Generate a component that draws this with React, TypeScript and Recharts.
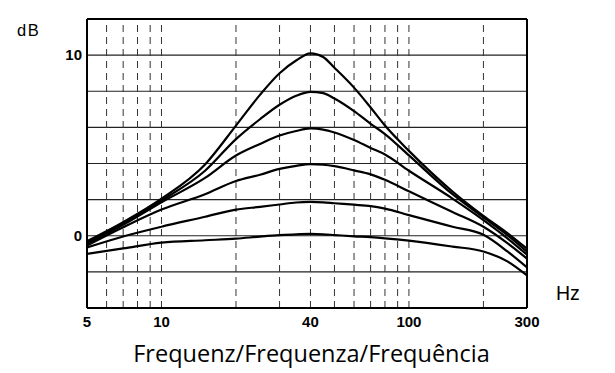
import React from 'react';
import { LineChart, Line, XAxis, YAxis, ReferenceLine } from 'recharts';

const freqs = [5, 7, 10, 15, 20, 25, 30, 35, 40, 45, 50, 60, 70, 80, 100, 150, 200, 250, 300];

// boost curves in dB, top to bottom
const boost10 = [-0.3, 0.75, 2.05, 3.95, 6.1, 7.8, 9.0, 9.7, 10.1, 9.9, 9.3, 8.2, 7.1, 6.1, 4.7, 2.45, 1.1, 0.15, -0.72];
const boost8 = [-0.38, 0.68, 1.95, 3.6, 5.35, 6.45, 7.25, 7.75, 7.97, 7.9, 7.6, 6.9, 6.2, 5.63, 4.45, 2.3, 1.02, 0.04, -0.88];
const boost6 = [-0.45, 0.6, 1.85, 3.2, 4.44, 5.08, 5.55, 5.8, 5.94, 5.88, 5.72, 5.3, 4.86, 4.5, 3.6, 2.06, 0.87, -0.14, -1.05];
const boost4 = [-0.54, 0.47, 1.45, 2.3, 3.03, 3.38, 3.7, 3.87, 3.96, 3.93, 3.85, 3.62, 3.4, 3.1, 2.46, 1.32, 0.5, -0.41, -1.27];
const boost2 = [-0.65, -0.04, 0.5, 1.05, 1.45, 1.6, 1.73, 1.84, 1.87, 1.85, 1.8, 1.72, 1.64, 1.5, 1.14, 0.5, 0.05, -0.87, -1.75];
const boost0 = [-1.0, -0.7, -0.38, -0.25, -0.16, -0.05, 0.03, 0.08, 0.1, 0.08, 0.04, -0.03, -0.08, -0.14, -0.27, -0.6, -0.87, -1.42, -2.2];

const series = [boost10, boost8, boost6, boost4, boost2, boost0];

const xTicks = [5, 10, 40, 100, 300];
const yTicks = [0, 10];
const hLines = [-2, 0, 2, 4, 6, 8, 10];
const vLines = [6, 7, 8, 9, 10, 20, 30, 40, 50, 60, 70, 80, 90, 100, 200];

const data = freqs.map((f, i) => {
  const row: Record<string, number> = { f };
  series.forEach((s, k) => {
    row[`c${k}`] = s[i];
  });
  return row;
});

// bold numeric tick labels
function XTick({ x, y, payload }: any) {
  return (
    <text x={x} y={y + 15} textAnchor="middle" fontFamily="Liberation Sans" fontWeight="bold" fontSize={15} fill="#000">
      {payload.value}
    </text>
  );
}

function YTick({ x, y, payload }: any) {
  return (
    <text x={x} y={y + 5} textAnchor="end" fontFamily="Liberation Sans" fontWeight="bold" fontSize={15} fill="#000">
      {payload.value}
    </text>
  );
}

export default function App() {
  return (
    <div style={{ position: 'absolute', left: 0, top: 0, width: 615, height: 373, background: '#fff' }}>
      <LineChart width={615} height={373} data={data} margin={{ top: 19, right: 88, bottom: 35, left: 47 }}>
        <XAxis
          dataKey="f"
          type="number"
          scale="log"
          domain={[5, 300]}
          ticks={xTicks}
          allowDataOverflow
          height={30}
          tickLine={false}
          tickSize={2}
          tickMargin={2}
          axisLine={{ stroke: '#000', strokeWidth: 2 }}
          tick={<XTick />}
        />
        <YAxis
          type="number"
          domain={[-4, 12]}
          ticks={yTicks}
          width={40}
          tickLine={false}
          tickSize={2}
          tickMargin={3}
          axisLine={{ stroke: '#000', strokeWidth: 2 }}
          tick={<YTick />}
        />
        {hLines.map((v) => (
          <ReferenceLine key={`h${v}`} y={v} stroke="#222" strokeWidth={1.2} />
        ))}
        {vLines.map((v) => (
          <ReferenceLine key={`v${v}`} x={v} stroke="#333" strokeWidth={1} strokeDasharray="7 5" />
        ))}
        <ReferenceLine y={12} stroke="#000" strokeWidth={2} />
        <ReferenceLine x={300} stroke="#000" strokeWidth={2} />
        {series.map((_, k) => (
          <Line
            key={k}
            dataKey={`c${k}`}
            type="monotone"
            stroke="#000"
            strokeWidth={2.2}
            dot={false}
            isAnimationActive={false}
          />
        ))}
      </LineChart>
      <div style={{ position: 'absolute', left: 17, top: 21, fontFamily: 'Liberation Sans', fontSize: 16.5, letterSpacing: 1.5, color: '#000' }}>dB</div>
      <div style={{ position: 'absolute', left: 556, top: 282, fontFamily: 'Liberation Sans', fontSize: 19.5, color: '#000' }}>Hz</div>
      <div
        style={{
          position: 'absolute',
          left: 0,
          width: 615,
          top: 337,
          textAlign: 'center',
          fontFamily: 'Open Sans',
          fontSize: 23.5,
          color: '#000',
          paddingLeft: 4,
        }}
      >
        Frequenz/Frequenza/Frequência
      </div>
    </div>
  );
}
